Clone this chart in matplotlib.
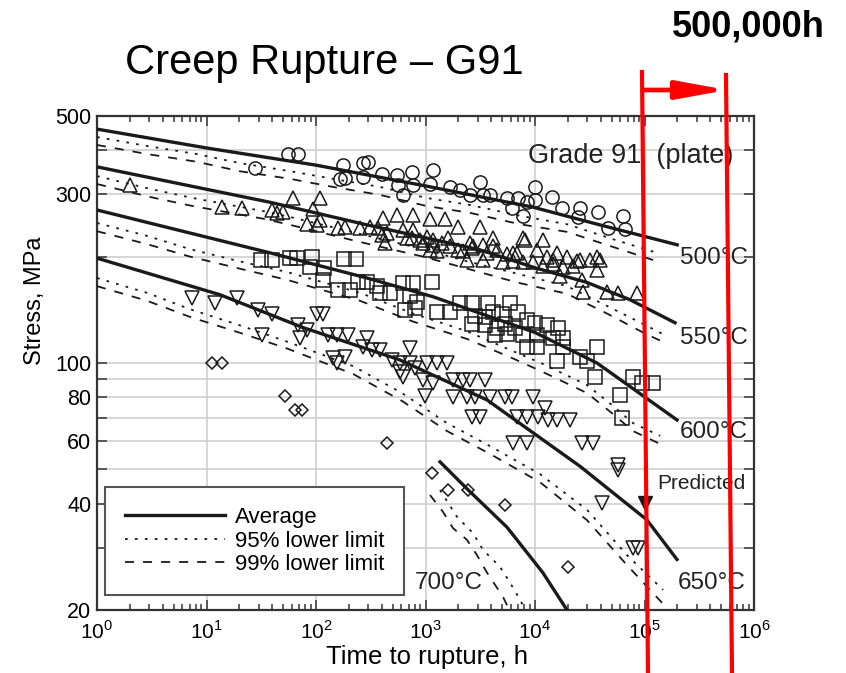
import matplotlib.pyplot as plt
from matplotlib.lines import Line2D
from matplotlib.patches import FancyArrowPatch

plt.rcParams['font.family'] = ['Liberation Sans', 'DejaVu Sans']
plt.rcParams['mathtext.fontset'] = 'custom'
plt.rcParams['mathtext.rm'] = 'Liberation Sans'

# ---- average rupture curves (time to rupture h, stress MPa)
avg_500_t = [1, 10, 100, 1000, 9600, 39000, 199000]
avg_500_s = [459, 406, 363, 317, 276, 246, 216]
avg_550_t = [1, 38, 292, 3150, 10000, 29900, 73800, 190000]
avg_550_s = [359, 285, 246, 209, 186, 169, 151, 130]
avg_600_t = [1, 38, 292, 1170, 10000, 36800, 198000]
avg_600_s = [271, 205, 174, 154, 122, 100, 69]
avg_650_t = [1, 13.3, 76, 585, 3650, 25800, 105000, 198000]
avg_650_s = [198, 156, 126, 102, 78.6, 51, 36, 27.8]
avg_700_t = [1357, 2440, 5550, 11800, 19600]
avg_700_s = [52.5, 43.8, 34.3, 25.5, 20]

# ---- lower limits (95% dotted, 99% dashed)
low_500_t = [1, 2.9, 8.2, 20, 58, 143, 384, 1030, 2550, 7290, 19600, 51600, 130000]
low95_500 = [436, 411, 390, 368, 349, 332, 315, 293, 280, 261, 247, 224, 205]
low99_500 = [414, 390, 371, 349, 332, 315, 299, 278, 266, 247, 235, 213, 194]
low_550_t = [1, 3.05, 7.5, 33, 58, 237, 950, 2390, 6850, 19600, 45500, 97000, 145000]
low95_550 = [338, 311, 293, 269, 259, 233, 210, 194, 179, 165, 145, 129, 121]
low99_550 = [321, 295, 278, 256, 246, 221, 200, 185, 169, 157, 138, 122, 115]
low_600_t = [1, 2.86, 7.07, 20, 54, 252, 769, 2390, 6300, 11800, 29900, 51600, 78500, 139000]
low95_600 = [249, 229, 210, 194, 181, 158, 138, 123, 108, 99.4, 86.6, 75.6, 67.6, 62.2]
low99_600 = [236, 217, 200, 185, 172, 150, 131, 117, 103, 94.3, 82.2, 71.7, 64.2, 59.0]
low_650_t = [1, 2.86, 7.07, 21.5, 54, 218, 610, 1570, 3880, 11100, 29900, 69200, 148000]
low95_650 = [174, 158, 142, 127, 115, 98, 82.2, 67.6, 58.2, 48.5, 38.4, 28.6, 22.8]
low99_650 = [165, 150, 135, 121, 110, 93.1, 78.1, 64.2, 55.3, 46.0, 35.9, 26.8, 20.8]
low95_700_t = [1357, 1940, 2716, 3350, 4790, 5910, 7290, 8280]
low95_700_s = [43.7, 36.7, 33.0, 29.6, 26.5, 23.9, 21.4, 19.8]
low99_700_t = [1100, 1445, 1783, 2390, 2950, 3650, 5100, 5910]
low99_700_s = [42.3, 37.9, 34.1, 31.6, 28.6, 25.5, 21.8, 19.8]

# ---- test data
c500_t = [28, 55, 68, 176, 270, 300, 166, 184, 269, 401, 549, 753, 1170, 561, 769, 1100,
          623, 1675, 2066, 2548, 3145, 3350, 3880, 5550, 6170, 7000, 7770, 8450, 10000,
          10000, 14300, 17700, 25800, 24700, 37600, 46400, 63700, 66400]
c500_s = [356, 390, 390, 363, 368, 370, 332, 334, 337, 343, 341, 347, 352, 318, 318, 320,
          299, 314, 309, 299, 325, 299, 299, 293, 275, 293, 261, 285, 314,
          289, 295, 275, 275, 259, 268, 241, 261, 239]

c550_t = [2.0, 13.9, 21, 40, 44, 50, 62, 109, 94, 83, 102, 109, 159, 184, 252, 311, 368,
          409, 401, 427, 445, 549, 769, 1100, 1510, 1980, 3150, 623, 769, 1030, 753, 948,
          1415, 1270, 1675, 2200, 2550, 3350, 4130, 4500, 5550, 6850, 7770, 5100, 6300,
          7770, 891, 1170, 1600, 2716, 4130, 8110, 11800, 10400, 12900, 14600, 19600,
          25800, 31800, 36800, 39200, 57300, 85500, 27400, 18000, 24200, 26900, 45500,
          16900, 22200, 14600, 11800, 9590, 6300, 3650, 2660, 1980, 1170, 678, 15900,
          36800, 3350, 2390, 1100]
c550_s = [319, 277, 275, 271, 266, 268, 293, 293, 273, 248, 246, 254, 241, 243, 241, 243, 241,
          257, 231, 219, 234, 262, 262, 256, 256, 243, 243, 238, 238, 227, 226, 219,
          219, 207, 214, 207, 219, 216, 226, 209, 203, 205, 226, 193, 194,
          193, 223, 223, 226, 214, 214, 223, 223, 209, 200, 196, 200,
          196, 196, 183, 196, 158, 158, 159, 187, 194, 172, 159,
          176, 188, 190, 188, 193, 205, 205, 212, 209, 216, 226, 205,
          200, 196, 196, 209]

c600_t = [31.5, 39.6, 58, 67, 92, 88, 118, 116, 180, 232, 159, 205, 242, 292, 361, 384, 474,
          623, 769, 1146, 721, 836, 802, 650, 1270, 1675, 2066, 2660, 3720, 5910, 2830,
          3490, 4130, 5000, 7000, 2660, 3490, 4500, 5320, 6560, 8450, 10000, 12900, 16200,
          4310, 5550, 7770, 10400, 14600, 18000, 8450, 10400, 18000, 36800, 25800, 15900,
          29900, 35300, 78500, 94800, 119600, 59700, 62300]
c600_s = [196, 196, 198, 198, 200, 187, 186, 172, 197, 197, 161, 161, 169, 169, 165, 158, 158,
          168, 168, 169, 155, 149, 143, 141, 139, 139, 148, 148, 148, 148, 136,
          135, 139, 138, 139, 129, 128, 126, 129, 126, 132, 130, 128, 126,
          120, 121, 120, 120, 118, 118, 111, 111, 111, 111, 104, 101,
          101, 91.5, 91.5, 88, 88, 81, 70]

c650_t = [7.4, 11.9, 19, 29.5, 40, 32, 68, 71, 83, 102, 116, 129, 156, 196, 143, 156, 184,
          292, 269, 325, 384, 494, 585, 585, 721, 721, 623, 802, 1030, 1270, 1570, 948,
          1170, 990, 1783, 2200, 2550, 3490, 1783, 2390, 2830, 3880, 5320, 6170, 9590,
          2660, 3150, 6850, 8450, 10650, 12300, 13150, 15900, 20900, 6300, 8450, 26900,
          33900, 57300, 57300, 40900, 78500, 87300]
c650_s = [153, 148, 153, 141, 138, 120, 128, 118, 124, 138, 138, 120, 120, 120, 103, 100, 104,
          118, 111, 109, 109, 102, 100, 94, 110, 100, 91.5, 97, 100, 100, 100, 89.5,
          88, 80.5, 89.5, 89.5, 89.5, 89.5, 80, 80, 80, 80, 80, 80, 80,
          70.4, 70.4, 70.4, 70.4, 70.4, 74.6, 69, 69, 69, 59.5, 59.5, 59.5,
          59.5, 51.5, 49.8, 40.2, 30, 30]

c700_t = [11.2, 13.9, 52, 64, 74.5, 445, 1146, 1600, 2440, 5320, 20000]
c700_s = [100, 100, 80.5, 73.6, 73.6, 59.5, 48.8, 43.7, 43.7, 39.6, 26.5]

predicted_t = [100000]
predicted_s = [40.2]

temp_labels = ['500°C', '550°C', '600°C', '650°C', '700°C']
x_tick_vals = [1, 10, 100, 1000, 10000, 100000, 1000000]
x_tick_labels = [r'$10^{%d}$' % k for k in range(7)]
x_minor_vals = [m * 10 ** k for k in range(6) for m in range(2, 10)]
y_tick_vals = [20, 40, 60, 80, 100, 300, 500]
y_minor_vals = [30, 50, 70, 90, 200, 400]

W, H = 846, 673
fig = plt.figure(figsize=(W / 100, H / 100), dpi=100)
ax = fig.add_axes([97 / W, 63 / H, 657 / W, 494 / H])

ink = '#1a1a1a'
dot = (0, (1.5, 4))
dash = (0, (5, 5))

for t, s in [(avg_500_t, avg_500_s), (avg_550_t, avg_550_s), (avg_600_t, avg_600_s),
             (avg_650_t, avg_650_s), (avg_700_t, avg_700_s)]:
    ax.plot(t, s, color=ink, lw=2.4, zorder=3)

for t, s95, s99 in [(low_500_t, low95_500, low99_500), (low_550_t, low95_550, low99_550),
                    (low_600_t, low95_600, low99_600), (low_650_t, low95_650, low99_650)]:
    ax.plot(t, s95, color=ink, lw=1.3, ls=dot, zorder=3)
    ax.plot(t, s99, color=ink, lw=1.3, ls=dash, zorder=3)
ax.plot(low95_700_t, low95_700_s, color=ink, lw=1.3, ls=dot, zorder=3)
ax.plot(low99_700_t, low99_700_s, color=ink, lw=1.3, ls=dash, zorder=3)

mk = dict(ls='none', mfc='none', mec=ink, mew=1.1, zorder=4)
ax.plot(c500_t, c500_s, marker='o', ms=9.5, **mk)
ax.plot(c550_t, c550_s, marker='^', ms=10, **mk)
ax.plot(c600_t, c600_s, marker='s', ms=9.5, **mk)
ax.plot(c650_t, c650_s, marker='v', ms=10, **mk)
ax.plot(c700_t, c700_s, marker='D', ms=6.5, **mk)
ax.plot(predicted_t, predicted_s, ls='none', marker='v', ms=10, mfc=ink, mec=ink, zorder=5)

ax.set_xscale('log')
ax.set_yscale('log')

ax.set_xticks(x_tick_vals)
ax.set_xticklabels(x_tick_labels)
ax.set_xticks(x_minor_vals, minor=True)
ax.set_xticklabels([], minor=True)
ax.set_yticks(y_tick_vals)
ax.set_yticklabels([str(v) for v in y_tick_vals])
ax.set_yticks(y_minor_vals, minor=True)
ax.set_yticklabels([], minor=True)
ax.set_xlim(1, 1e6)
ax.set_ylim(20, 500)

ax.grid(True, which='major', axis='x', color='#cfcfcf', lw=1.2)
ax.grid(True, which='both', axis='y', color='#cfcfcf', lw=1.2)
ax.set_axisbelow(True)

ax.tick_params(which='both', direction='in', top=True, right=True, color='#333333', width=1.1)
ax.tick_params(axis='x', which='major', length=7, labelsize=15, pad=7)
ax.tick_params(axis='x', which='minor', length=4)
ax.tick_params(axis='y', which='both', length=7, labelsize=15.5, pad=4)
for sp in ax.spines.values():
    sp.set_color('#333333')
    sp.set_linewidth(1.6)

ax.set_xlabel('Time to rupture, h', fontsize=18.5)
ax.set_ylabel('Stress, MPa', fontsize=17)
ax.xaxis.set_label_coords(0.502, -0.071)
ax.yaxis.set_label_coords(-0.078, 0.627)

ax.text(0.656, 0.905, 'Grade 91  (plate)', transform=ax.transAxes, fontsize=19.5,
        va='baseline', color='#222222')
label_pos = [(0.887, 0.7126), (0.887, 0.5506), (0.887, 0.3603), (0.884, 0.0547), (0.484, 0.0547)]
for lab, (lx, ly) in zip(temp_labels, label_pos):
    ax.text(lx, ly, lab, transform=ax.transAxes, fontsize=17.5, va='center', color='#222222')
ax.text(0.852, 0.257, 'Predicted', transform=ax.transAxes, fontsize=15, va='center',
        color='#222222')

handles = [Line2D([], [], color=ink, lw=2.4),
           Line2D([], [], color=ink, lw=1.3, ls=dot),
           Line2D([], [], color=ink, lw=1.3, ls=dash)]
leg = ax.legend(handles, ['Average', '95% lower limit', '99% lower limit'],
                loc='lower left', bbox_to_anchor=(0.012, 0.03), borderaxespad=0,
                fontsize=16, handlelength=4.5, handletextpad=0.45, borderpad=0.9,
                labelspacing=0.12, fancybox=False, framealpha=1, edgecolor='#555555')
leg.get_frame().set_linewidth(1.5)

# headline text and the 500,000 h bracket drawn over everything (figure pixels)
fig.text(125 / W, 1 - 74 / H, 'Creep Rupture – G91', fontsize=30, va='baseline')
fig.text(672 / W, 1 - 37 / H, '500,000h', fontsize=26, weight='bold', va='baseline')


def px(x, y):
    return x / W, 1 - y / H


for (x0, y0), (x1, y1) in [((642, 72), (648, H)), ((726, 75), (732, H))]:
    (fx0, fy0), (fx1, fy1) = px(x0, y0), px(x1, y1)
    fig.add_artist(Line2D([fx0, fx1], [fy0, fy1], transform=fig.transFigure,
                          color='red', lw=3, zorder=10))
fig.add_artist(FancyArrowPatch(px(643, 90), px(727, 90), transform=fig.transFigure,
                               arrowstyle='-|>,head_length=3.0,head_width=0.55',
                               mutation_scale=10, lw=3.4, color='red',
                               shrinkA=0, shrinkB=0, zorder=10))

fig.savefig('out.png', dpi=100)
